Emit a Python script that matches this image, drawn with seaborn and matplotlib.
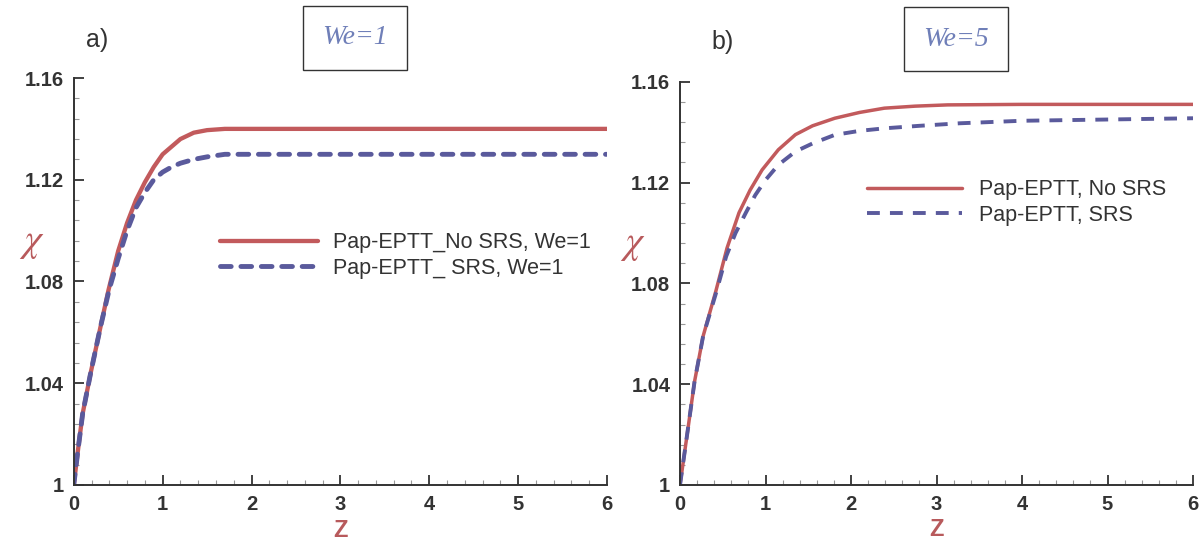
import numpy as np
import pandas as pd
import matplotlib
matplotlib.use("Agg")
import matplotlib.pyplot as plt
from matplotlib.ticker import FixedLocator, FixedFormatter, MultipleLocator
import seaborn as sns

# ---------------- data ----------------
# Panel a) We=1
z_a_nosrs = [0, 0.045, 0.1, 0.19, 0.3, 0.39, 0.5, 0.6, 0.7, 0.8, 0.9, 1.0, 1.1, 1.2,
             1.35, 1.5, 1.7, 2.0, 3.0, 4.0, 5.0, 6.0]
chi_a_nosrs = [1.0, 1.013, 1.028, 1.044, 1.062, 1.0765, 1.092, 1.103, 1.112, 1.119, 1.125,
               1.130, 1.133, 1.136, 1.1385, 1.1395, 1.140, 1.140, 1.140, 1.140, 1.140, 1.140]
z_a_srs = [0, 0.045, 0.1, 0.19, 0.3, 0.4, 0.5, 0.6, 0.7, 0.8, 0.9, 1.0, 1.1, 1.2,
           1.35, 1.5, 1.7, 2.0, 3.0, 4.0, 5.0, 6.0]
chi_a_srs = [1.0, 1.013, 1.028, 1.044, 1.062, 1.077, 1.089, 1.100, 1.109, 1.115, 1.120,
             1.123, 1.125, 1.1265, 1.128, 1.129, 1.130, 1.130, 1.130, 1.130, 1.130, 1.130]

# Panel b) We=5
z_b_nosrs = [0, 0.05, 0.1, 0.17, 0.27, 0.42, 0.55, 0.69, 0.82, 0.96, 1.15, 1.35, 1.55,
             1.81, 2.1, 2.39, 2.75, 3.13, 4.0, 5.0, 6.0]
chi_b_nosrs = [1.0, 1.012, 1.024, 1.041, 1.059, 1.077, 1.094, 1.108, 1.117, 1.125, 1.133,
               1.139, 1.1425, 1.1455, 1.1478, 1.1495, 1.1503, 1.1508, 1.151, 1.151, 1.151]
z_b_srs = [0, 0.05, 0.1, 0.17, 0.27, 0.42, 0.54, 0.65, 0.77, 0.88, 1.0, 1.15, 1.35, 1.55,
           1.81, 2.1, 2.39, 2.8, 3.27, 4.0, 5.0, 6.0]
chi_b_srs = [1.0, 1.012, 1.024, 1.041, 1.059, 1.076, 1.0907, 1.100, 1.108, 1.115, 1.121,
             1.127, 1.1323, 1.1355, 1.1389, 1.1405, 1.1415, 1.1425, 1.1435, 1.1445, 1.145, 1.1455]

labels_a = ["Pap-EPTT_No SRS, We=1", "Pap-EPTT_ SRS, We=1"]
labels_b = ["Pap-EPTT, No SRS", "Pap-EPTT, SRS"]
titles = ["We=1", "We=5"]
panel_tags = ["a)", "b)"]

x_ticks = [0, 1, 2, 3, 4, 5, 6]
x_ticklabels = ["0", "1", "2", "3", "4", "5", "6"]
y_ticks = [1.0, 1.04, 1.08, 1.12, 1.16]
y_ticklabels = ["1", "1.04", "1.08", "1.12", "1.16"]

# ---------------- style ----------------
sns.set_style("white")
plt.rcParams['font.family'] = ['Liberation Sans', 'DejaVu Sans']
plt.rcParams['mathtext.fontset'] = 'stix'

RED = "#c25a5c"
BLUE = "#5a5a9c"
DARK = "#333333"
LABEL_RED = "#b85a5c"

fig = plt.figure(figsize=(12, 5.41), dpi=100)
W, H = 1200, 541


def px_axes(x0, x1, y_top, y_bot):
    return fig.add_axes([x0 / W, 1 - y_bot / H, (x1 - x0) / W, (y_bot - y_top) / H])


ax_a = px_axes(73.75, 607, 78, 485)
ax_b = px_axes(680, 1193, 81.7, 485)

# panel a
sns.lineplot(x=z_a_nosrs, y=chi_a_nosrs, ax=ax_a, color=RED, lw=3.1,
             label=labels_a[0], sort=False)
sns.lineplot(x=z_a_srs, y=chi_a_srs, ax=ax_a, color=BLUE, lw=3.5,
             label=labels_a[1], sort=False)
ax_a.lines[1].set_dashes([2.2, 2.0])
ax_a.lines[1].set_dash_capstyle('round')

# panel b
sns.lineplot(x=z_b_nosrs, y=chi_b_nosrs, ax=ax_b, color=RED, lw=2.5,
             label=labels_b[0], sort=False)
sns.lineplot(x=z_b_srs, y=chi_b_srs, ax=ax_b, color=BLUE, lw=2.8,
             label=labels_b[1], sort=False)
ax_b.lines[1].set_dashes([3.3, 2.6])

for ax in (ax_a, ax_b):
    ax.set_xlim(0, 6)
    ax.set_ylim(1.0, 1.16)
    for s in ("top", "right"):
        ax.spines[s].set_visible(False)
    for s in ("left", "bottom"):
        ax.spines[s].set_color(DARK)
        ax.spines[s].set_linewidth(1.4)
    ax.xaxis.set_major_locator(FixedLocator(x_ticks))
    ax.xaxis.set_major_formatter(FixedFormatter(x_ticklabels))
    ax.yaxis.set_major_locator(FixedLocator(y_ticks))
    ax.yaxis.set_major_formatter(FixedFormatter(y_ticklabels))
    ax.xaxis.set_minor_locator(MultipleLocator(0.2))
    ax.yaxis.set_minor_locator(MultipleLocator(0.008))
    ax.tick_params(which='major', direction='in', length=7, width=1.3, color=DARK,
                   labelsize=14.5, labelcolor=DARK, pad=7)
    ax.tick_params(which='minor', direction='in', length=3.5, width=0.8, color="#999999")
    ax.tick_params(axis='x', which='both', bottom=True, top=False)
    ax.tick_params(axis='y', which='both', left=True, right=False)
    for t in ax.get_xticklabels() + ax.get_yticklabels():
        t.set_fontweight('bold')
    ax.set_facecolor("white")
    ax.set_xlabel("Z", color=LABEL_RED, fontsize=17, fontweight='bold')
    ax.set_ylabel(r"$\chi$", color=LABEL_RED, fontsize=28, rotation=0)

ax_a.xaxis.set_label_coords(0.5, -0.083)
ax_b.xaxis.set_label_coords(0.5, -0.083)
ax_a.yaxis.set_label_coords(-0.078, 0.55)
ax_b.yaxis.set_label_coords(-0.093, 0.55)

# legends
leg_a = ax_a.legend(loc='center left', bbox_to_anchor=(220 / W, 1 - 255.5 / H),
                    bbox_transform=fig.transFigure, frameon=False, fontsize=15.5,
                    handlelength=4.55, handletextpad=0.7, labelspacing=0.2,
                    borderpad=0, borderaxespad=0)
leg_b = ax_b.legend(loc='center left', bbox_to_anchor=(867 / W, 1 - 202.5 / H),
                    bbox_transform=fig.transFigure, frameon=False, fontsize=15.5,
                    handlelength=4.4, handletextpad=0.78, labelspacing=0.2,
                    borderpad=0, borderaxespad=0)
for leg in (leg_a, leg_b):
    for t in leg.get_texts():
        t.set_color(DARK)

# title boxes
for cx, cy, txt in ((355, 38, titles[0]), (956, 39, titles[1])):
    fig.text(cx / W, 1 - cy / H, txt, ha='center', va='center',
             fontfamily='Liberation Serif', style='italic', fontsize=20, color="#6f7fb8",
             bbox=dict(boxstyle='square,pad=0.7', fc='white', ec=DARK, lw=1.0))

# panel tags
fig.text(97 / W, 1 - 40 / H, panel_tags[0], ha='center', va='center', fontsize=18, color=DARK)
fig.text(723 / W, 1 - 42 / H, panel_tags[1], ha='center', va='center', fontsize=18, color=DARK)

fig.savefig("out.png", dpi=100, facecolor="white")
